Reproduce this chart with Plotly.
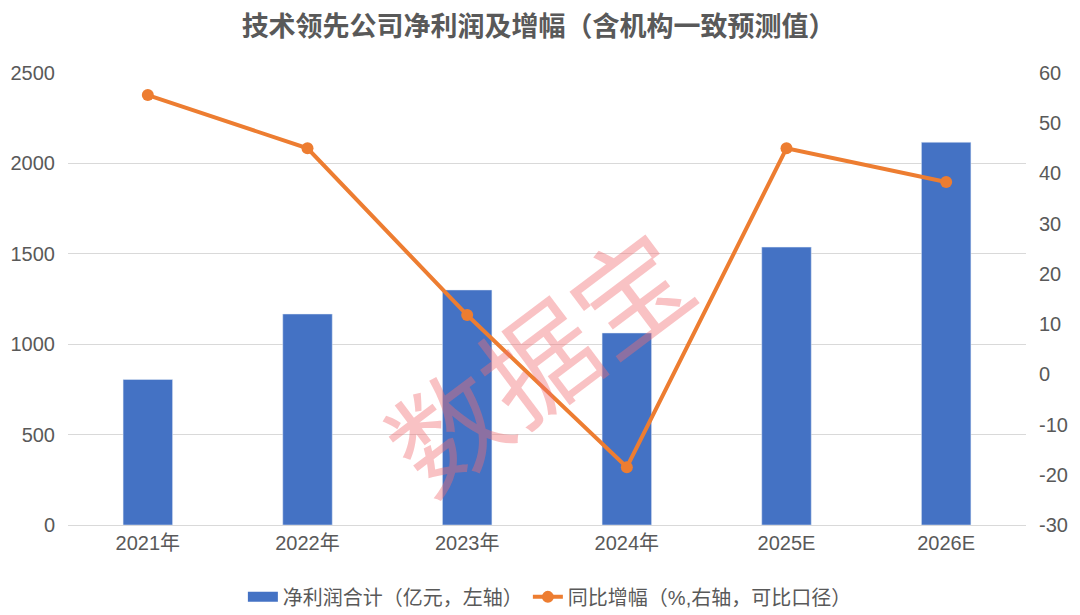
import plotly.graph_objects as go

categories = ["2021年", "2022年", "2023年", "2024年", "2025E", "2026E"]
profit = [805, 1167, 1300, 1062, 1537, 2117]
growth = [55.6, 45.0, 11.8, -18.5, 45.0, 38.3]
right_ticks = [-30, -20, -10, 0, 10, 20, 30, 40, 50, 60]
right_tick_labels = ["-30", "-20", "-10", "0", "10", "20", "30", "40", "50", "60"]

font_family = "Liberation Sans, Noto Sans CJK SC, sans-serif"
text_color = "#595959"
bar_color = "#4472C4"
line_color = "#ED7D31"

fig = go.Figure()
fig.add_trace(go.Bar(
    x=categories, y=profit, name="净利润合计（亿元，左轴）",
    marker_color=bar_color, yaxis="y", showlegend=False,
))
# legend proxy for bar series (wide rectangle swatch)
fig.add_trace(go.Scatter(
    x=[None], y=[None], name="净利润合计（亿元，左轴）",
    mode="lines", line=dict(color=bar_color, width=13), yaxis="y",
))
fig.add_trace(go.Scatter(
    x=categories, y=growth, name="同比增幅（%,右轴，可比口径）",
    mode="lines+markers", line=dict(color=line_color, width=4),
    marker=dict(size=12, color=line_color), yaxis="y2",
))

fig.update_layout(
    width=1072, height=607,
    paper_bgcolor="white", plot_bgcolor="white",
    font=dict(family=font_family, color=text_color, size=20),
    title=dict(text="<b>技术领先公司净利润及增幅（含机构一致预测值）</b>",
               x=0.495, xanchor="center", y=0.97, yanchor="middle",
               font=dict(size=27, color=text_color)),
    margin=dict(l=60, r=54, t=65, b=90, autoexpand=False),
    bargap=0.69,
    xaxis=dict(showgrid=False, showline=True, linecolor="#D9D9D9", linewidth=1,
               ticks="", tickfont=dict(size=20, color=text_color), automargin=False),
    yaxis=dict(range=[0, 2500], dtick=500, showgrid=True, gridcolor="#D9D9D9",
               gridwidth=1, zeroline=False, showline=False, automargin=False,
               tickfont=dict(size=20, color=text_color), ticklabelstandoff=12),
    yaxis2=dict(range=[-30, 60], tickmode="array", tickvals=right_ticks,
                ticktext=right_tick_labels, overlaying="y", side="right",
                showgrid=False, zeroline=False, showline=False, automargin=False,
                tickfont=dict(size=20, color=text_color), ticklabelstandoff=12),
    legend=dict(orientation="h", x=0.503, xanchor="center", y=-0.159, yanchor="middle",
                font=dict(size=20, color=text_color)),
    showlegend=True,
)

fig.add_annotation(
    text="数据宝", xref="paper", yref="paper", x=0.488, y=0.37,
    showarrow=False, textangle=-37,
    font=dict(size=114, color="rgba(240,110,115,0.42)",
              family="Noto Sans CJK SC, sans-serif"),
)

fig.write_html("out.html")
